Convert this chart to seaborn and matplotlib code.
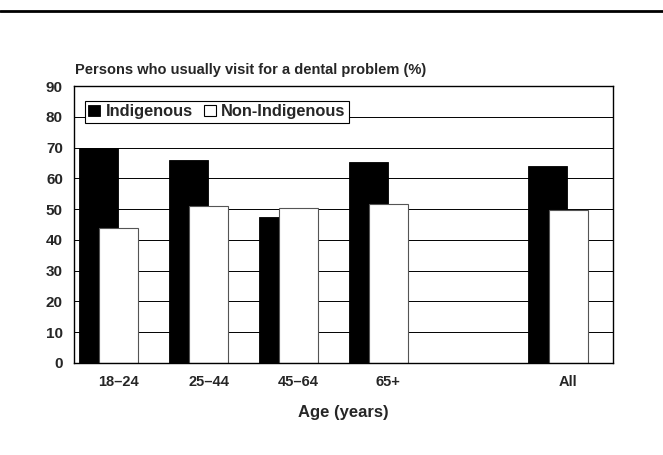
import numpy as np
import pandas as pd
import matplotlib
matplotlib.use("Agg")
import matplotlib.pyplot as plt
from matplotlib.lines import Line2D
from matplotlib.patches import Patch
import seaborn as sns

sns.set_style("white")
plt.rcParams["font.family"] = ["Liberation Sans", "DejaVu Sans"]
plt.rcParams["font.weight"] = "bold"

# ---------------- DATA ----------------
age_groups = ["18–24", "25–44", "45–64", "65+", "", "All"]
indigenous = [69.7, 65.9, 47.4, 65.4, np.nan, 63.9]
non_indigenous = [43.9, 50.9, 50.3, 51.5, np.nan, 49.7]
y_ticks = [0, 10, 20, 30, 40, 50, 60, 70, 80, 90]

df = pd.DataFrame({"age": age_groups, "Indigenous": indigenous,
                   "Non-Indigenous": non_indigenous}).dropna()

# ---------------- CHART ----------------
W, H = 663, 455
fig = plt.figure(figsize=(W / 100, H / 100), dpi=100)
ax = fig.add_axes([74 / W, 1 - 363 / H, (613 - 74) / W, (363 - 86) / H])

bar_w = 0.434
sns.barplot(data=df, x="age", y="Indigenous", order=age_groups, color="black",
            edgecolor="black", linewidth=0.6, width=bar_w, saturation=1, ax=ax)
n_black = len(ax.patches)
sns.barplot(data=df, x="age", y="Non-Indigenous", order=age_groups, color="white",
            edgecolor="#555555", linewidth=0.8, width=bar_w, saturation=1, ax=ax)

# Excel-style overlap: black bars sit a little to the left
for p in ax.patches[:n_black]:
    p.set_x(p.get_x() - 0.224)

ax.set_xlim(-0.5, len(age_groups) - 0.5)
ax.set_ylim(0, 90)
ax.set_yticks(y_ticks)
ax.set_yticklabels([str(t) for t in y_ticks], fontsize=11, fontweight="bold")
ax.yaxis.grid(True, color="black", linewidth=0.7)
ax.set_axisbelow(True)

# ticks at category boundaries, labels at category centres
ax.set_xticks(np.arange(len(age_groups) + 1) - 0.5)
ax.set_xticklabels([])
ax.set_xticks(np.arange(len(age_groups)), minor=True)
ax.set_xticklabels(age_groups, minor=True, fontsize=10.5, fontweight="bold")
ax.tick_params(axis="x", which="major", direction="out", length=4, width=0.8, color="black")
ax.tick_params(axis="x", which="minor", length=0, pad=8.5)
ax.tick_params(axis="y", direction="out", length=4, width=0.8, color="black", pad=4)
ax.set_xlabel("")
ax.set_ylabel("")
for s in ax.spines.values():
    s.set_color("black")
    s.set_linewidth(1.0)

# titles
fig.text(75 / W, 1 - 70 / H, "Persons who usually visit for a dental problem (%)",
         fontsize=10.5, fontweight="bold", va="center", ha="left")
fig.text(343.5 / W, 1 - 412 / H, "Age (years)", fontsize=12, fontweight="bold",
         va="center", ha="center")

# legend
handles = [Patch(facecolor="black", edgecolor="black", linewidth=0.6),
           Patch(facecolor="white", edgecolor="black", linewidth=0.8)]
leg = fig.legend(handles, ["Indigenous", "Non-Indigenous"], ncol=2,
                 loc="upper left", bbox_to_anchor=(85 / W, 1 - 101 / H),
                 bbox_transform=fig.transFigure, frameon=True, fancybox=False,
                 framealpha=1, edgecolor="black", borderpad=0.2, borderaxespad=0,
                 handlelength=0.7, handleheight=0.7, handletextpad=0.35,
                 columnspacing=0.7, prop={"size": 11.8, "weight": "bold"})
leg.get_frame().set_linewidth(0.8)

# rule across the top
fig.add_artist(Line2D([0, 1], [1 - 11 / H, 1 - 11 / H], color="black",
                      linewidth=2, transform=fig.transFigure))

plt.savefig("out.png", dpi=100)
plt.close()
